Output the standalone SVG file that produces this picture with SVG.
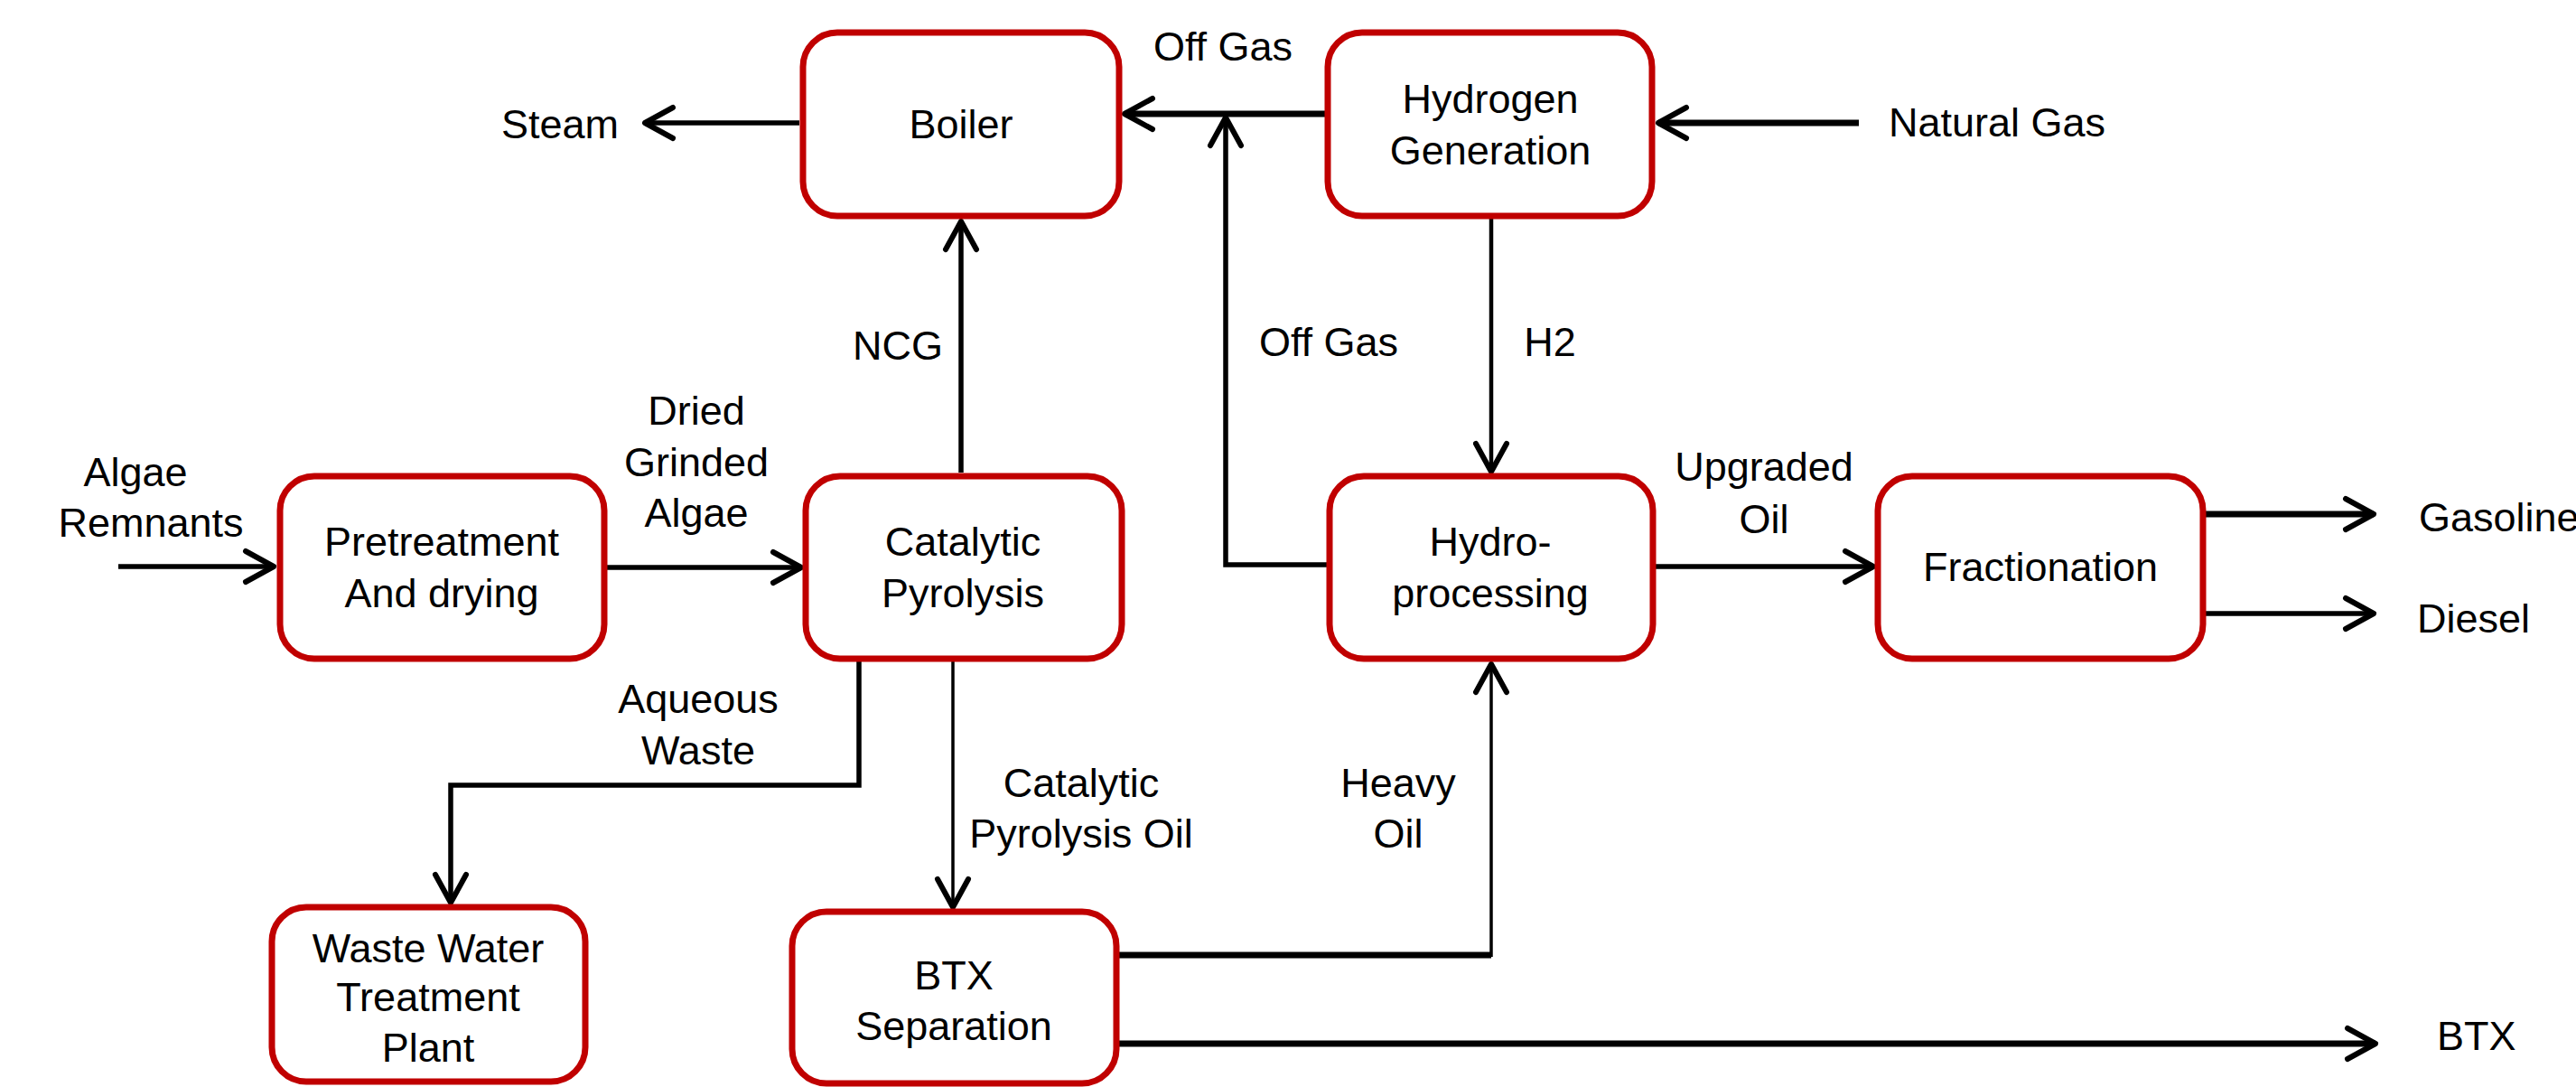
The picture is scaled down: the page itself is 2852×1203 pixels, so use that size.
<svg xmlns="http://www.w3.org/2000/svg" width="2852" height="1203" viewBox="0 0 2852 1203">
<style>
.box{fill:#fff;stroke:#C00000;stroke-width:7}
text{font-family:"Liberation Sans",Arial,sans-serif;font-size:45px;fill:#000}
.c{text-anchor:middle}
.ln{fill:none;stroke:#000;stroke-linejoin:miter}
.t1{stroke-width:7}
.t2{stroke-width:5.5}
.t3{stroke-width:3.5}
.t4{stroke-width:4.5}
</style>
<defs>
<marker id="ah" markerUnits="userSpaceOnUse" markerWidth="40" markerHeight="40" refX="0" refY="0" orient="auto" overflow="visible">
<path d="M -31 -17 L 0 0 L -31 17" fill="none" stroke="#000" stroke-width="6" stroke-linecap="round" stroke-linejoin="round"/>
</marker>
</defs>
<rect width="2852" height="1203" fill="#fff"/>
<g id="connectors">
<line class="ln t2" x1="885" y1="136" x2="714" y2="136" marker-end="url(#ah)"/>
<line class="ln t1" x1="1467" y1="126" x2="1245" y2="126" marker-end="url(#ah)"/>
<line class="ln t1" x1="2058" y1="136" x2="1836" y2="136" marker-end="url(#ah)"/>
<polyline class="ln t2" points="1469,625 1357,625 1357,130" marker-end="url(#ah)"/>
<line class="ln t2" x1="1064" y1="523" x2="1064" y2="245" marker-end="url(#ah)"/>
<line class="ln t4" x1="1651" y1="242" x2="1651" y2="522" marker-end="url(#ah)"/>
<line class="ln t2" x1="131" y1="627" x2="303" y2="627" marker-end="url(#ah)"/>
<line class="ln t2" x1="672" y1="628" x2="887" y2="628" marker-end="url(#ah)"/>
<polyline class="ln t2" points="951,732 951,869 499,869 499,999" marker-end="url(#ah)"/>
<line class="ln t3" x1="1055" y1="732" x2="1055" y2="1004" marker-end="url(#ah)"/>
<polyline class="ln t1" points="1239,1057 1651,1057"/>
<line class="ln t3" x1="1651" y1="1059" x2="1651" y2="735" marker-end="url(#ah)"/>
<line class="ln t2" x1="1833" y1="627" x2="2074" y2="627" marker-end="url(#ah)"/>
<line class="ln t1" x1="2442" y1="569" x2="2628" y2="569" marker-end="url(#ah)"/>
<line class="ln t2" x1="2442" y1="679" x2="2628" y2="679" marker-end="url(#ah)"/>
<line class="ln t1" x1="1239" y1="1155" x2="2630" y2="1155" marker-end="url(#ah)"/>
</g>
<g id="boiler"><rect class="box" x="889" y="36" width="350" height="203" rx="38"/><text class="c" x="1064" y="153">Boiler</text></g>
<g id="hydrogen"><rect class="box" x="1470" y="36" width="359" height="203" rx="38"/><text class="c" x="1650" y="125">Hydrogen</text><text class="c" x="1650" y="182">Generation</text></g>
<g id="pretreatment"><rect class="box" x="310" y="527" width="359" height="202" rx="38"/><text class="c" x="489" y="615">Pretreatment</text><text class="c" x="489" y="672">And drying</text></g>
<g id="catalytic"><rect class="box" x="892" y="527" width="350" height="202" rx="38"/><text class="c" x="1066" y="615">Catalytic</text><text class="c" x="1066" y="672">Pyrolysis</text></g>
<g id="hydroprocessing"><rect class="box" x="1472" y="527" width="358" height="202" rx="38"/><text class="c" x="1650" y="615">Hydro-</text><text class="c" x="1650" y="672">processing</text></g>
<g id="fractionation"><rect class="box" x="2079" y="527" width="360" height="202" rx="38"/><text class="c" x="2259" y="643">Fractionation</text></g>
<g id="wastewater"><rect class="box" x="301" y="1004" width="347" height="193" rx="38"/><text class="c" x="474" y="1065">Waste Water</text><text class="c" x="474" y="1119">Treatment</text><text class="c" x="474" y="1175">Plant</text></g>
<g id="btx"><rect class="box" x="877" y="1009" width="359" height="190" rx="38"/><text class="c" x="1056" y="1095">BTX</text><text class="c" x="1056" y="1151">Separation</text></g>
<g id="labels">
<text class="c" x="620" y="153">Steam</text>
<text class="c" x="1354" y="67">Off Gas</text>
<text x="2091" y="151">Natural Gas</text>
<text class="c" x="994" y="398">NCG</text>
<text class="c" x="1471" y="394">Off Gas</text>
<text class="c" x="1716" y="394">H2</text>
<text class="c" x="150" y="538">Algae</text>
<text class="c" x="167" y="594">Remnants</text>
<text class="c" x="771" y="470">Dried</text>
<text class="c" x="771" y="527">Grinded</text>
<text class="c" x="771" y="583">Algae</text>
<text class="c" x="1953" y="532">Upgraded</text>
<text class="c" x="1953" y="590">Oil</text>
<text x="2678" y="588">Gasoline</text>
<text x="2676" y="700">Diesel</text>
<text class="c" x="773" y="789">Aqueous</text>
<text class="c" x="773" y="846">Waste</text>
<text class="c" x="1197" y="882">Catalytic</text>
<text class="c" x="1197" y="938">Pyrolysis Oil</text>
<text class="c" x="1548" y="882">Heavy</text>
<text class="c" x="1548" y="938">Oil</text>
<text x="2698" y="1162">BTX</text>
</g>
</svg>
